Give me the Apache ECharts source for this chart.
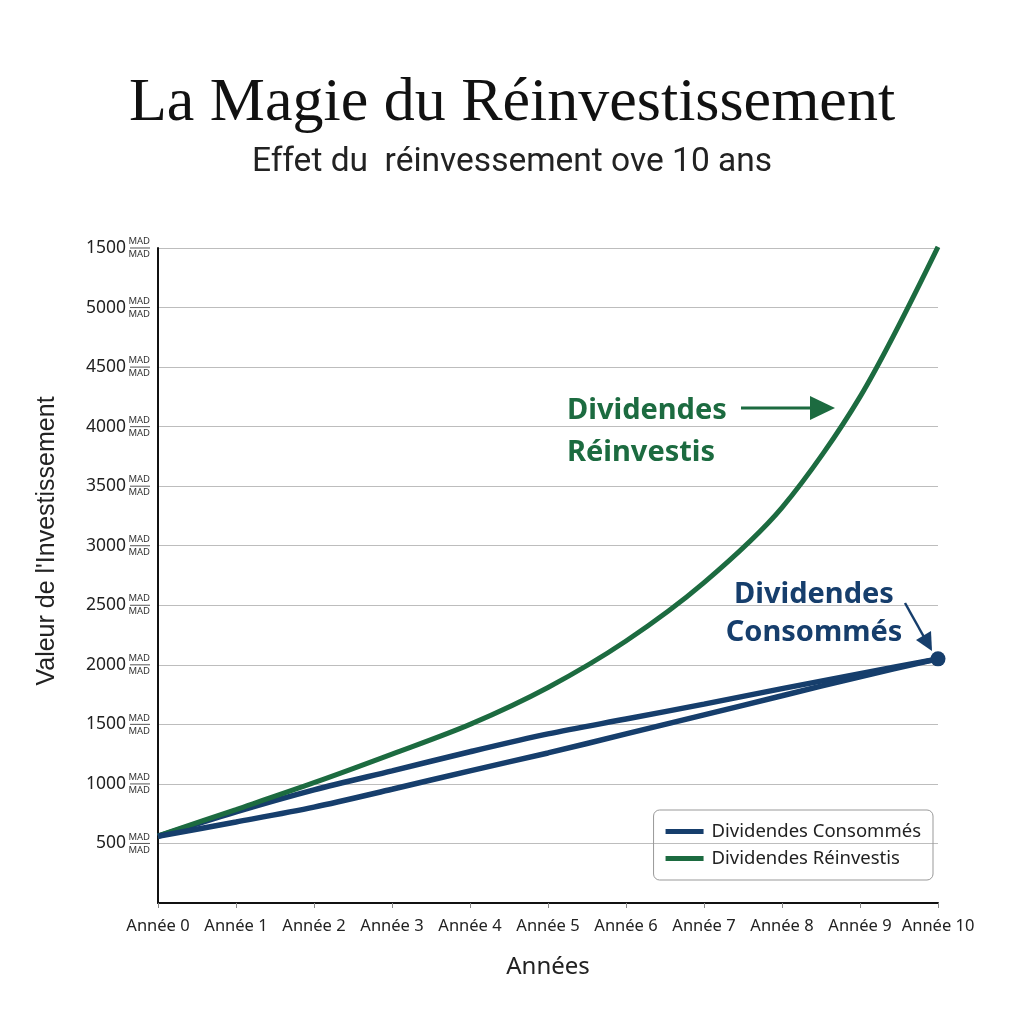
<!DOCTYPE html>
<html>
<head>
<meta charset="utf-8">
<title>La Magie du Réinvestissement</title>
<script src="https://cdn.jsdelivr.net/npm/echarts@6/dist/echarts.min.js"></script>
<style>
  html, body { margin: 0; padding: 0; background: #fff; }
  #chart { width: 1024px; height: 1024px; }
</style>
</head>
<body>
<div id="chart"></div>
<script>
// données
const years = ['Année 0', 'Année 1', 'Année 2', 'Année 3', 'Année 4', 'Année 5',
               'Année 6', 'Année 7', 'Année 8', 'Année 9', 'Année 10'];
const reinvestis = [563, 785, 1010, 1250, 1500, 1810, 2200, 2690, 3320, 4250, 5510];
// deux tracés bleus (haut et bas) qui se rejoignent en Année 10
const consommesHaut = [560, 765, 950, 1110, 1270, 1420, 1545, 1670, 1800, 1925, 2050];
const consommesBas = [560, 680, 805, 955, 1110, 1260, 1420, 1580, 1740, 1900, 2050];
// étiquettes de l'axe Y (la dernière est telle quelle sur l'image)
const yTickLabels = ['', '500', '1000', '1500', '2000', '2500', '3000', '3500', '4000', '4500', '5000', '1500'];

const NAVY = '#163e6c';
const GREEN = '#1c6b40';

const chart = echarts.init(document.getElementById('chart'));

const lastIdx = years.length - 1;

const option = {
    backgroundColor: '#fff',
    title: [{
        text: 'La Magie du Réinvestissement',
        left: 'center',
        top: 68,
        textStyle: { fontFamily: 'Liberation Serif', fontSize: 62, fontWeight: 'normal', color: '#111' }
    }, {
        text: 'Effet du  réinvessement ove 10 ans',
        left: 'center',
        top: 141,
        textStyle: { fontFamily: 'Roboto', fontSize: 33.5, fontWeight: 'normal', color: '#222' }
    }],
    legend: {
        orient: 'vertical',
        right: 91,
        top: 810,
        data: ['Dividendes Consommés', 'Dividendes Réinvestis'],
        icon: 'rect',
        itemWidth: 38,
        itemHeight: 5,
        itemGap: 8,
        padding: [12, 12, 12, 12],
        borderColor: '#999',
        borderWidth: 1,
        borderRadius: 6,
        textStyle: { fontFamily: 'Noto Sans', fontSize: 18.5, color: '#222', padding: [0, 0, 0, 3] }
    },
    grid: { left: 158, right: 86, top: 248, bottom: 121 },
    xAxis: {
        type: 'category',
        data: years,
        boundaryGap: false,
        name: 'Années',
        nameLocation: 'middle',
        nameGap: 52,
        nameTextStyle: { fontFamily: 'Noto Sans', fontSize: 24, color: '#222' },
        axisLine: { lineStyle: { color: '#111', width: 2 } },
        axisTick: { show: true, length: 5, lineStyle: { color: '#888' } },
        axisLabel: { fontFamily: 'Noto Sans', fontSize: 16.5, color: '#222', margin: 15, interval: 0 },
        splitLine: { show: false }
    },
    yAxis: [{
        type: 'value',
        min: 0,
        max: 5500,
        interval: 500,
        axisLine: { show: true, lineStyle: { color: '#111', width: 2 } },
        axisTick: { show: false },
        axisLabel: {
            margin: 32,
            fontFamily: 'Noto Sans', fontSize: 17.5, color: '#222',
            formatter: v => yTickLabels[Math.round(v / 500)]
        },
        splitLine: { lineStyle: { color: '#bdbdbd', width: 1 } }
    }, {
        // petite fraction MAD/MAD à côté de chaque valeur
        type: 'value',
        position: 'left',
        min: 0,
        max: 5500,
        interval: 500,
        axisLine: { show: false },
        axisTick: { show: false },
        splitLine: { show: false },
        axisLabel: {
            margin: 8,
            formatter: v => v === 0 ? '' : '{t|MAD}\n{l| }\n{b|MAD}',
            rich: {
                t: { fontFamily: 'Noto Sans', fontSize: 9.5, color: '#333', lineHeight: 10, align: 'center' },
                l: { width: 20, height: 1, lineHeight: 3, backgroundColor: '#555', fontSize: 1 },
                b: { fontFamily: 'Noto Sans', fontSize: 9.5, color: '#333', lineHeight: 10, align: 'center' }
            }
        }
    }],
    series: [{
        name: 'Dividendes Consommés',
        type: 'line',
        data: consommesHaut,
        smooth: 0.3,
        showSymbol: false,
        lineStyle: { color: NAVY, width: 5.5 },
        itemStyle: { color: NAVY },
        z: 2
    }, {
        name: 'Dividendes Consommés',
        type: 'line',
        data: consommesBas,
        smooth: 0.3,
        showSymbol: false,
        lineStyle: { color: NAVY, width: 5.5 },
        itemStyle: { color: NAVY },
        markPoint: {
            symbol: 'circle',
            symbolSize: 15,
            silent: true,
            label: { show: false },
            itemStyle: { color: NAVY },
            data: [{ coord: [lastIdx, consommesBas[lastIdx]] }]
        },
        z: 4
    }, {
        name: 'Dividendes Réinvestis',
        type: 'line',
        data: reinvestis,
        smooth: 0.3,
        showSymbol: false,
        lineStyle: { color: GREEN, width: 5 },
        itemStyle: { color: GREEN },
        z: 3
    }],
    graphic: [
        {
            type: 'text', x: 47, y: 541, rotation: Math.PI / 2, z: 10,
            style: { text: "Valeur de l'Investissement", fill: '#222', font: '25px "Liberation Sans"', align: 'center', verticalAlign: 'middle' }
        },
        {
            type: 'text', left: 567, top: 390, z: 10,
            style: { text: 'Dividendes\nRéinvestis', fill: GREEN, font: 'bold 29px "Noto Sans"', lineHeight: 42 }
        },
        { type: 'line', shape: { x1: 741, y1: 408, x2: 815, y2: 408 }, style: { stroke: GREEN, lineWidth: 3 }, z: 10 },
        { type: 'polygon', shape: { points: [[835, 408], [810, 396], [810, 420]] }, style: { fill: GREEN }, z: 10 },
        {
            type: 'text', x: 814, y: 576, z: 10,
            style: { text: 'Dividendes\nConsommés', fill: NAVY, font: 'bold 29px "Noto Sans"', lineHeight: 38, align: 'center' }
        },
        { type: 'line', shape: { x1: 905, y1: 603, x2: 924, y2: 637 }, style: { stroke: NAVY, lineWidth: 2.5 }, z: 10 },
        { type: 'polygon', shape: { points: [[932, 651], [916, 640], [931, 631]] }, style: { fill: NAVY }, z: 10 }
    ]
};

chart.setOption(option);
</script>
</body>
</html>
